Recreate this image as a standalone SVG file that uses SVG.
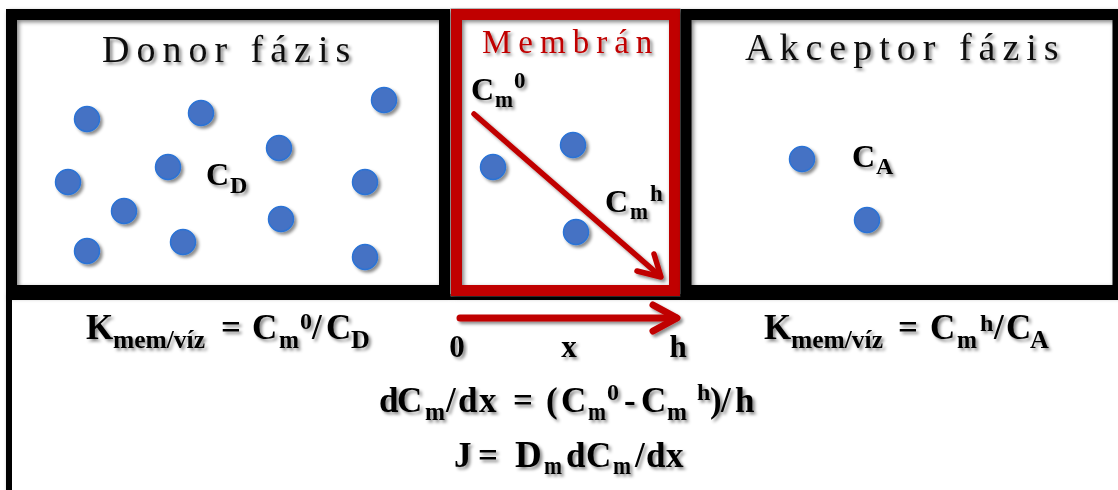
<svg xmlns="http://www.w3.org/2000/svg" width="1118" height="490" viewBox="0 0 1118 490">
<defs>
<filter id="tsh" x="-10%" y="-30%" width="130%" height="170%"><feDropShadow dx="2.5" dy="2.5" stdDeviation="1.6" flood-color="#000" flood-opacity="0.45"/></filter>
<filter id="csh" x="-50%" y="-50%" width="200%" height="200%"><feDropShadow dx="2.5" dy="2.5" stdDeviation="1.8" flood-color="#000" flood-opacity="0.45"/></filter>
<filter id="fsh" x="-5%" y="-5%" width="110%" height="110%"><feDropShadow dx="2" dy="2" stdDeviation="2" flood-color="#000" flood-opacity="0.5"/></filter>
</defs>
<style>
.frame{fill:none;stroke:#000;stroke-width:11}
.mem{fill:none;stroke:#C00000;stroke-width:11}
.dot{fill:#4472C4;stroke:#2A73D6;stroke-width:1.5;filter:url(#csh)}
.title{font-family:"Liberation Serif","Times New Roman",serif;font-size:38px;letter-spacing:7px;fill:#111;filter:url(#tsh)}
.mt{font-family:"Liberation Serif","Times New Roman",serif;font-size:33px;letter-spacing:7px;fill:#C00000;filter:url(#tsh)}
.b{font-family:"Liberation Serif","Times New Roman",serif;font-weight:bold;font-size:35px;fill:#000;filter:url(#tsh)}
.s{font-size:26px}
.p{font-size:24px}
.lab{font-family:"Liberation Serif","Times New Roman",serif;font-weight:bold;font-size:31px;fill:#000;filter:url(#tsh)}
.arr{fill:none;stroke:#C00000;stroke-linecap:round;stroke-linejoin:round}
</style>
<rect width="1118" height="490" fill="#fff"/>

<g id="bottom-box">
<rect x="9" y="297" width="1120" height="200" fill="#fff" stroke="#000" stroke-width="6" filter="url(#fsh)"/>
</g>

<g id="donor">
<rect x="11.5" y="14.5" width="433" height="276" fill="#fff" class="frame" filter="url(#fsh)"/>
<text class="title" x="102" y="62">Donor fázis</text>
<circle class="dot" cx="87" cy="119" r="12.5"/>
<circle class="dot" cx="201" cy="113" r="12.5"/>
<circle class="dot" cx="384" cy="100" r="12.5"/>
<circle class="dot" cx="279" cy="148" r="12.5"/>
<circle class="dot" cx="168" cy="167" r="12.5"/>
<circle class="dot" cx="68" cy="182" r="12.5"/>
<circle class="dot" cx="365" cy="182" r="12.5"/>
<circle class="dot" cx="124" cy="211" r="12.5"/>
<circle class="dot" cx="281" cy="219" r="12.5"/>
<circle class="dot" cx="87" cy="251" r="12.5"/>
<circle class="dot" cx="183" cy="242" r="12.5"/>
<circle class="dot" cx="365" cy="257" r="12.5"/>
<text class="b" x="206" y="185" style="font-size:32px">C<tspan x="230" y="193" style="font-size:24px">D</tspan></text>
</g>

<g id="membran">
<rect x="451" y="9" width="229" height="287" fill="none" stroke="#888" stroke-width="1"/>
<rect x="456.5" y="14.5" width="218" height="276" fill="#fff" class="mem" filter="url(#fsh)"/>
<text class="mt" x="482" y="53">Membrán</text>
<circle class="dot" cx="493" cy="167" r="12.5"/>
<circle class="dot" cx="573" cy="145" r="12.5"/>
<circle class="dot" cx="576" cy="232" r="12.5"/>
<text class="b" x="471" y="100" style="font-size:32px">C<tspan x="495" y="107" style="font-size:24px" textLength="18" lengthAdjust="spacingAndGlyphs">m</tspan><tspan x="514" y="88" style="font-size:23px">0</tspan></text>
<text class="b" x="605" y="212" style="font-size:32px">C<tspan x="630" y="219" style="font-size:24px" textLength="18" lengthAdjust="spacingAndGlyphs">m</tspan><tspan x="650" y="201" style="font-size:23px">h</tspan></text>
</g>

<g id="akceptor">
<rect x="686" y="14.5" width="432" height="276" fill="#fff" class="frame" filter="url(#fsh)"/>
<text class="title" x="745" y="60">Akceptor fázis</text>
<circle class="dot" cx="802" cy="159" r="12.5"/>
<circle class="dot" cx="867" cy="220" r="12.5"/>
<text class="b" x="852" y="167" style="font-size:32px">C<tspan x="876" y="174" style="font-size:24px">A</tspan></text>
</g>

<g id="connectors" filter="url(#tsh)">
<path class="arr" stroke-width="5.5" d="M474,114 L660,276"/>
<path class="arr" stroke-width="5.5" d="M637,271 L661,277 L654,254"/>
<path class="arr" stroke-width="7" d="M460,318 L676,318"/>
<path class="arr" stroke-width="7" d="M653,305 L677,318 L653,331"/>
</g>

<g id="equations">
<text class="b" x="86" y="339">K<tspan class="s" x="113" y="348" textLength="92" lengthAdjust="spacingAndGlyphs">mem/víz</tspan><tspan x="221" y="339">=</tspan><tspan x="252" y="339">C</tspan><tspan class="s" x="279" y="348" textLength="20" lengthAdjust="spacingAndGlyphs">m</tspan><tspan class="p" x="300" y="329">0</tspan><tspan x="312" y="339">/</tspan><tspan x="326" y="339">C</tspan><tspan class="s" x="351" y="348">D</tspan></text>
<text class="lab" x="457" y="357" text-anchor="middle">0</text>
<text class="lab" x="569" y="357" text-anchor="middle">x</text>
<text class="lab" x="678" y="357" text-anchor="middle">h</text>
<text class="b" x="764" y="339">K<tspan class="s" x="791" y="348" textLength="92" lengthAdjust="spacingAndGlyphs">mem/víz</tspan><tspan x="898" y="339">=</tspan><tspan x="930" y="339">C</tspan><tspan class="s" x="957" y="348" textLength="20" lengthAdjust="spacingAndGlyphs">m</tspan><tspan class="p" x="980" y="331">h</tspan><tspan x="994" y="339">/</tspan><tspan x="1006" y="339">C</tspan><tspan class="s" x="1030" y="348">A</tspan></text>
<text class="b" x="379" y="412">d<tspan x="397" y="412">C</tspan><tspan class="s" x="425" y="420" textLength="20" lengthAdjust="spacingAndGlyphs">m</tspan><tspan x="446" y="412">/</tspan><tspan x="458" y="412">d</tspan><tspan x="479" y="412">x</tspan><tspan x="513" y="412">=</tspan><tspan x="546" y="412">(</tspan><tspan x="561" y="412">C</tspan><tspan class="s" x="588" y="420" textLength="18" lengthAdjust="spacingAndGlyphs">m</tspan><tspan class="p" x="607" y="400">0</tspan><tspan x="624" y="412">-</tspan><tspan x="641" y="412">C</tspan><tspan class="s" x="667" y="420" textLength="20" lengthAdjust="spacingAndGlyphs">m</tspan><tspan class="p" x="697" y="400">h</tspan><tspan x="710" y="412">)</tspan><tspan x="721" y="412">/</tspan><tspan x="735" y="412">h</tspan></text>
<text class="b" x="454" y="467">J<tspan x="478" y="467">=</tspan><tspan x="515" y="467" style="font-size:37px">D</tspan><tspan class="s" x="544" y="474" textLength="18" lengthAdjust="spacingAndGlyphs">m</tspan><tspan x="566" y="467">d</tspan><tspan x="586" y="467">C</tspan><tspan class="s" x="613" y="474" textLength="18" lengthAdjust="spacingAndGlyphs">m</tspan><tspan x="635" y="467">/</tspan><tspan x="646" y="467">d</tspan><tspan x="666" y="467">x</tspan></text>
</g>
</svg>
